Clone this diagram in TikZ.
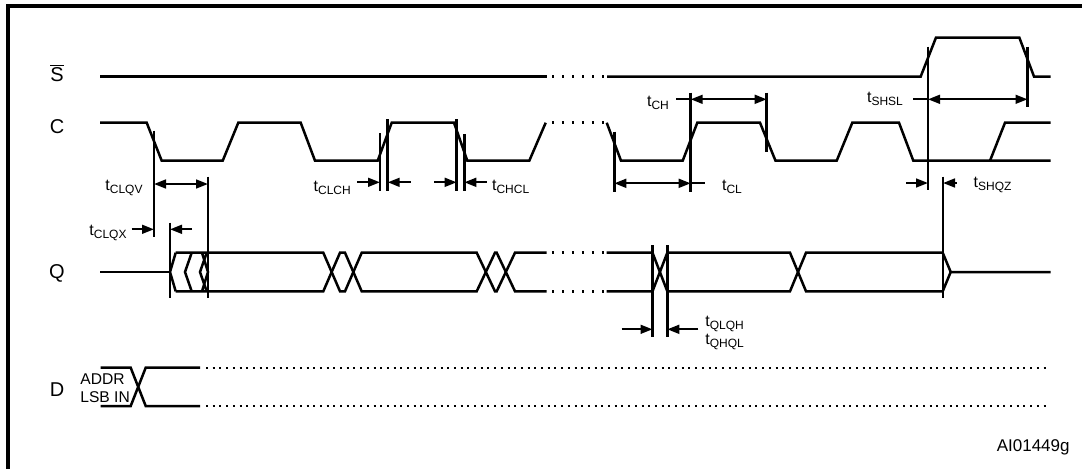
\documentclass[tikz,border=0pt]{standalone}
\usepackage{fontspec}
\setmainfont{Liberation Sans}
\usetikzlibrary{arrows.meta}
\tikzset{
  boxframe/.style={line width=1.6pt},
  wave/.style={line width=1.25pt,line join=miter},
  gapdots/.style={line width=1.25pt,dash pattern=on 1.2pt off 3.8pt},
  busdots/.style={line width=1.2pt,dash pattern=on 1pt off 2.35pt},
  refline/.style={line width=1.25pt},
  dimarrow/.style={-{Triangle[length=6pt,width=4.4pt]},line width=1.1pt},
  dimboth/.style={{Triangle[length=6pt,width=4.4pt]}-{Triangle[length=6pt,width=4.4pt]},line width=1.1pt},
  dimline/.style={line width=1.1pt},
  siglabel/.style={font=\fontsize{10}{12}\selectfont,inner sep=0pt},
  tlabel/.style={font=\fontsize{8}{9.5}\selectfont,inner sep=0pt,anchor=west},
  datalabel/.style={font=\fontsize{7.8}{9}\selectfont,inner sep=0pt,anchor=west}
}
\newcommand{\tsym}[1]{t\textsubscript{#1}}

\begin{document}
\begin{tikzpicture}[x=0.5pt,y=-0.5pt]
\useasboundingbox (0,0) rectangle (1082,468);
\clip (0,0) rectangle (1082,468);
\draw[boxframe] (8,480) -- (8,6) -- (1090,6);

% signal names
\node[siglabel] (sname) at (57,73) {$\overline{\mbox{S}}$};
\node[siglabel] (cname) at (57,127) {C};
\node[siglabel] (qname) at (57,273) {Q};
\node[siglabel] (dname) at (57,390) {D};

% S bar
\draw[wave] (100,76.5) -- (547,76.5);
\draw[gapdots] (552,76.5) -- (607,76.5);
\draw[wave] (607,76.5) -- (920.7,76.5) -- (936,37.5) -- (1019.3,37.5) -- (1034,76.5) -- (1050.7,76.5);

% C
\draw[wave] (100,122.7) -- (146.7,122.7) -- (161.7,160.7) -- (222.7,160.7) -- (238.3,122.7)
  -- (300.7,122.7) -- (315,160.7) -- (377.7,160.7) -- (391.7,122.7) -- (454,122.7)
  -- (467.3,160.7) -- (529.3,160.7) -- (545.7,122.7);
\draw[gapdots] (552,122.7) -- (607,122.7);
\draw[wave] (606.7,122.7) -- (621,160.7) -- (682.7,160.7) -- (697.3,122.7) -- (760,122.7)
  -- (775.5,160.7) -- (836.7,160.7) -- (852.3,122.7) -- (899,122.7) -- (913.3,160.7)
  -- (1050.7,160.7);
\draw[wave] (990,160.7) -- (1005,122.7) -- (1050.7,122.7);

% Q
\draw[wave] (100,272) -- (170,272);
\draw[wave] (175.7,252.7) -- (170,272) -- (175.7,291.3);
\draw[wave] (191.7,252.7) -- (185,272) -- (191.7,291.3);
\draw[wave] (206.7,252.7) -- (200,272) -- (206.7,291.3);
\draw[wave] (202,252.7) -- (208,272) -- (202,291.3);
\draw[wave] (175.7,252.7) -- (323.3,252.7) -- (340,291.3) -- (345,291.3) -- (361.7,252.7)
  -- (476.7,252.7) -- (495,291.3) -- (496.7,291.3) -- (515,252.7) -- (546.7,252.7);
\draw[wave] (175.7,291.3) -- (323.3,291.3) -- (340,252.7) -- (345,252.7) -- (361.7,291.3)
  -- (476.7,291.3) -- (495,252.7) -- (496.7,252.7) -- (515,291.3) -- (546.7,291.3);
\draw[gapdots] (552,252.7) -- (607,252.7);
\draw[gapdots] (552,291.3) -- (607,291.3);
\draw[wave] (606.7,252.7) -- (652.5,252.7) -- (667.3,291.3) -- (790,291.3) -- (806,252.7)
  -- (942.7,252.7) -- (950.7,272) -- (1050.7,272);
\draw[wave] (606.7,291.3) -- (652.5,291.3) -- (667.3,252.7) -- (790,252.7) -- (806,291.3)
  -- (942.7,291.3) -- (950.7,272);

% D
\draw[wave] (100.7,367.7) -- (130.7,367.7) -- (145.7,406) -- (200,406);
\draw[wave] (100.7,406) -- (130.7,406) -- (145.7,367.7) -- (200,367.7);
\draw[busdots] (206,367.7) -- (1050,367.7);
\draw[busdots] (206,406) -- (1050,406);
\node[datalabel] (addr) at (80,379) {ADDR};
\node[datalabel] (lsb) at (80,397) {LSB IN};

% reference lines
\draw[refline] (154,130.7) -- (154,236.7);
\draw[refline] (208,176.7) -- (208,298.3);
\draw[refline] (170,222.7) -- (170,298.3);
\draw[refline] (380,133.3) -- (380,190.7);
\draw[refline] (387.7,119.3) -- (387.7,190.7);
\draw[refline] (456.7,119.3) -- (456.7,190.7);
\draw[refline] (464.3,134) -- (464.3,190.7);
\draw[refline] (614.3,131.7) -- (614.3,191.7);
\draw[refline] (690.7,92.7) -- (690.7,191.7);
\draw[refline] (766.7,92.7) -- (766.7,151.7);
\draw[refline] (652.5,245) -- (652.5,336.7);
\draw[refline] (667.3,245) -- (667.3,336.7);
\draw[refline] (928,46.7) -- (928,190);
\draw[refline] (1027.5,46.7) -- (1027.5,106.7);
\draw[refline] (943,176.7) -- (943,298.3);

% timing arrows
\draw[dimboth] (154,184) -- (208,184);
\node[tlabel] (clqv) at (105,188) {\tsym{CLQV}};
\draw[dimarrow] (131.7,229.3) -- (154,229.3);
\draw[dimarrow] (192,229.3) -- (170,229.3);
\node[tlabel] (clqx) at (89,233) {\tsym{CLQX}};
\draw[dimarrow] (357.3,182.3) -- (380,182.3);
\draw[dimarrow] (410.7,182.3) -- (387.7,182.3);
\node[tlabel] (clch) at (313.3,188) {\tsym{CLCH}};
\draw[dimarrow] (434.3,182.3) -- (456.7,182.3);
\draw[dimarrow] (486.7,182.3) -- (464.3,182.3);
\node[tlabel] (chcl) at (491.7,187) {\tsym{CHCL}};
\draw[dimline] (676,99.3) -- (690.7,99.3);
\draw[dimboth] (690.7,99.3) -- (766.7,99.3);
\node[tlabel] (ch) at (646.7,103) {\tsym{CH}};
\draw[dimboth] (614.3,183.3) -- (690.7,183.3);
\draw[dimline] (690.7,183.3) -- (705,183.3);
\node[tlabel] (cl) at (721.7,187) {\tsym{CL}};
\draw[dimarrow] (621.7,329.3) -- (652.5,329.3);
\draw[dimarrow] (698.3,329.3) -- (667.3,329.3);
\node[tlabel] (qlqh) at (705,324) {\tsym{QLQH}};
\node[tlabel] (qhql) at (705,342) {\tsym{QHQL}};
\draw[dimline] (913.3,99.3) -- (928,99.3);
\draw[dimboth] (928,99.3) -- (1027.5,99.3);
\node[tlabel] (shsl) at (866.7,99) {\tsym{SHSL}};
\draw[dimarrow] (906,183) -- (928,183);
\draw[dimarrow] (956.7,183) -- (943,183);
\node[tlabel] (shqz) at (973.3,185) {\tsym{SHQZ}};

\node[font=\fontsize{8.5}{10}\selectfont,inner sep=0pt,anchor=east] (code) at (1070,447) {AI01449g};
\end{tikzpicture}
\end{document}
